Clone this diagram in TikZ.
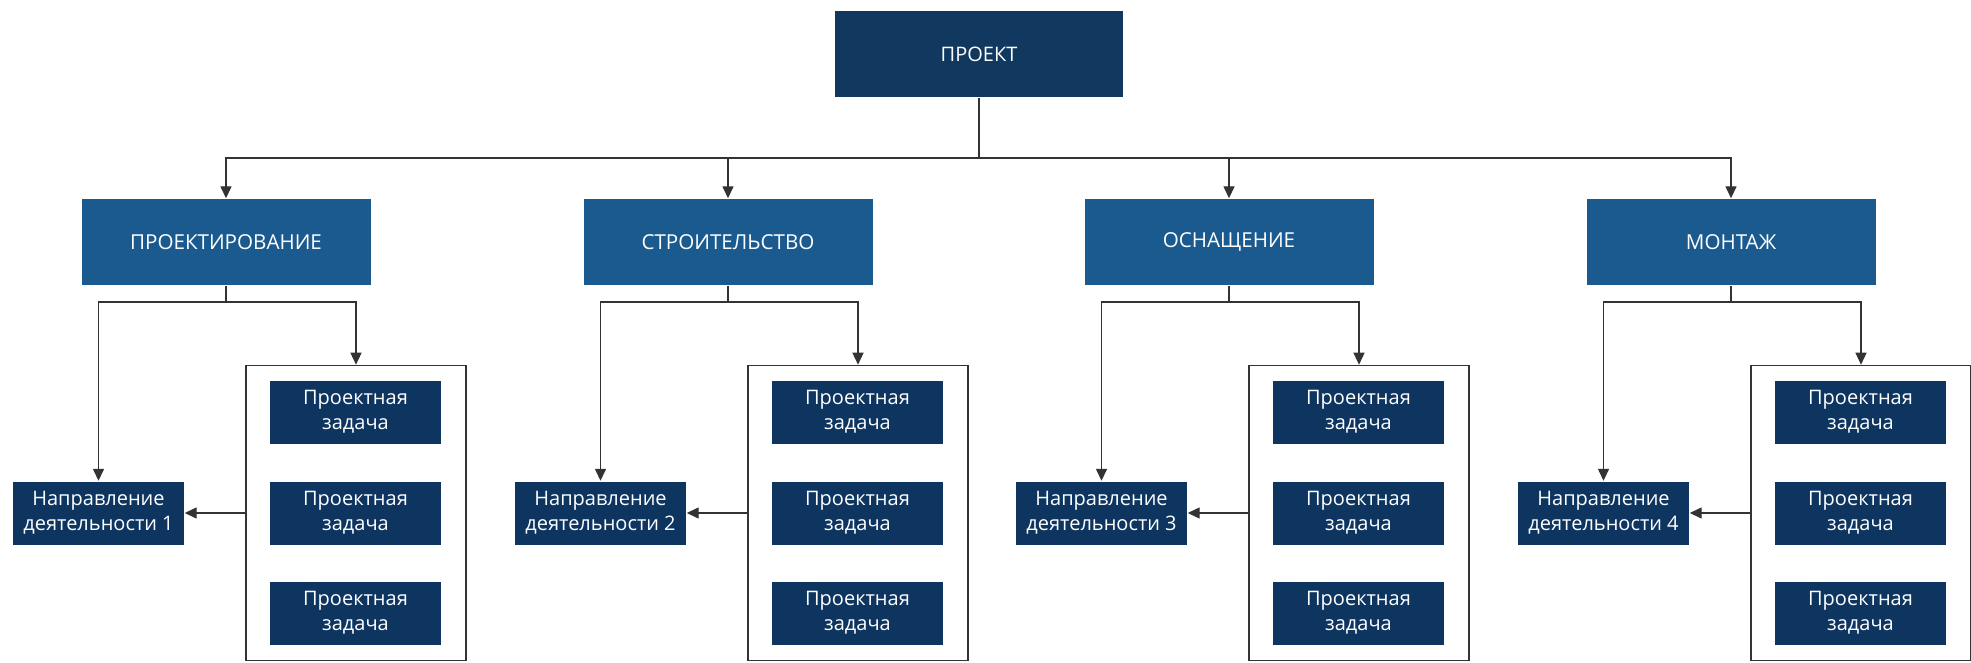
\documentclass[tikz,border=0pt]{standalone}
\usepackage{fontspec}
\setmainfont{Open Sans}
\usepackage{tikz}
\usetikzlibrary{arrows.meta}

\definecolor{rootblue}{HTML}{11385E}
\definecolor{phaseblue}{HTML}{1A5A8F}
\definecolor{taskblue}{HTML}{0D3560}
\definecolor{linegray}{HTML}{333333}

\begin{document}
\begin{tikzpicture}[x=0.5pt,y=-0.5pt,line width=0.7pt,draw=linegray,
  >={Triangle[length=6pt,width=5.5pt]},
  box/.style={inner sep=0pt,align=center,text=white,
    font=\fontsize{10}{12.5}\selectfont},
  root/.style={box,fill=rootblue,minimum width=144pt,minimum height=43pt},
  phase/.style={box,fill=phaseblue,minimum width=144.5pt,minimum height=43pt,
    font=\fontsize{10.3}{12.5}\selectfont},
  task/.style={box,fill=taskblue,minimum width=85.5pt,minimum height=31.5pt},
  group/.style={draw=linegray,line width=0.8pt,fill=white,inner sep=0pt,
    minimum width=110pt,minimum height=147.5pt}]
\useasboundingbox (0,0) rectangle (1971,663);
\node[root] (P) at (979,54) {ПРОЕКТ};
\node[phase] (A) at (226,242) {ПРОЕКТИРОВАНИЕ};
\node[phase] (B) at (728,242) {СТРОИТЕЛЬСТВО};
\node[phase] (C) at (1229,242) {ОСНАЩЕНИЕ};
\node[phase] (D) at (1731,242) {МОНТАЖ};
% directions and task groups
\node[task] (A1) at (98.5,513) {Направление\\деятельности 1};
\node[task] (B1) at (600.5,513) {Направление\\деятельности 2};
\node[task] (C1) at (1101.5,513) {Направление\\деятельности 3};
\node[task] (D1) at (1603.5,513) {Направление\\деятельности 4};
\node[group] (AG) at (356,513) {};
\node[group] (BG) at (858,513) {};
\node[group] (CG) at (1359,513) {};
\node[group] (DG) at (1861,513) {};
\node[task] (Ta1) at (355.5,412) {Проектная\\задача};
\node[task] (Ta2) at (355.5,513) {Проектная\\задача};
\node[task] (Ta3) at (355.5,613) {Проектная\\задача};
\node[task] (Tb1) at (857.5,412) {Проектная\\задача};
\node[task] (Tb2) at (857.5,513) {Проектная\\задача};
\node[task] (Tb3) at (857.5,613) {Проектная\\задача};
\node[task] (Tc1) at (1358.5,412) {Проектная\\задача};
\node[task] (Tc2) at (1358.5,513) {Проектная\\задача};
\node[task] (Tc3) at (1358.5,613) {Проектная\\задача};
\node[task] (Td1) at (1860.5,412) {Проектная\\задача};
\node[task] (Td2) at (1860.5,513) {Проектная\\задача};
\node[task] (Td3) at (1860.5,613) {Проектная\\задача};
% buses
\coordinate (bus) at (979,158);
\coordinate (a0) at (226,302);
\coordinate (b0) at (728,302);
\coordinate (c0) at (1229,302);
\coordinate (d0) at (1731,302);
\draw (P) -- (bus);
\draw[->] (bus) -| (A);
\draw[->] (bus) -| (B);
\draw[->] (bus) -| (C);
\draw[->] (bus) -| (D);
\draw (A) -- (a0);
\draw (B) -- (b0);
\draw (C) -- (c0);
\draw (D) -- (d0);
\draw[->] (a0) -| (A1);
\draw[->] (a0) -| (AG);
\draw[->] (b0) -| (B1);
\draw[->] (b0) -| (BG);
\draw[->] (c0) -| (C1);
\draw[->] (c0) -| (CG);
\draw[->] (d0) -| (D1);
\draw[->] (d0) -| (DG);
\draw[->] (AG) -- (A1);
\draw[->] (BG) -- (B1);
\draw[->] (CG) -- (C1);
\draw[->] (DG) -- (D1);
\end{tikzpicture}
\end{document}
